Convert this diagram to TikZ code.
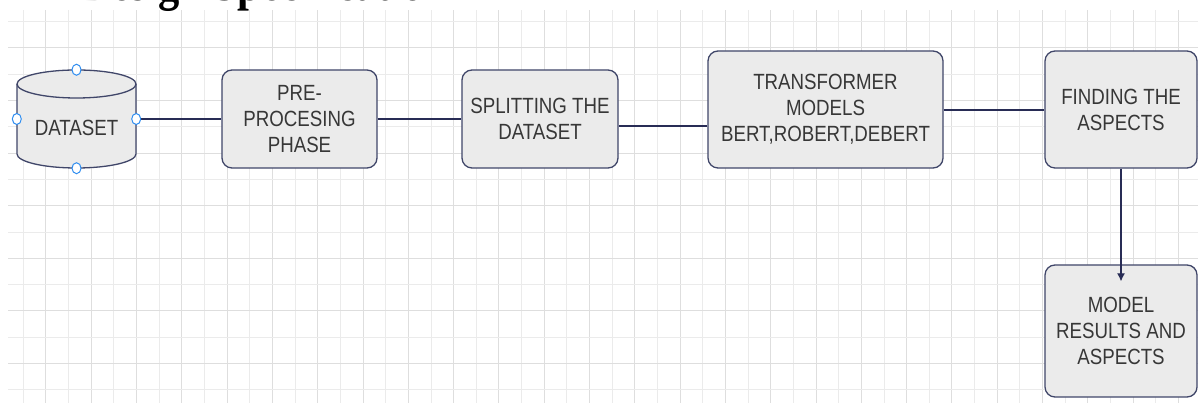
\documentclass[tikz,border=0pt]{standalone}
\usepackage{fontspec}
\setmainfont{Liberation Sans}[FakeStretch=0.85]
\newfontfamily\headfont{Liberation Serif}[FakeStretch=0.85]
\usetikzlibrary{arrows.meta}

\definecolor{boxfill}{RGB}{235,235,235}
\definecolor{boxline}{RGB}{64,70,105}
\definecolor{wirecol}{RGB}{40,44,85}
\definecolor{labelgray}{RGB}{55,55,55}
\definecolor{gridmajor}{RGB}{222,222,222}
\definecolor{gridminor}{RGB}{235,235,235}
\definecolor{handleblue}{RGB}{45,140,240}

\begin{document}
\begin{tikzpicture}[x=1pt,y=1pt,
    stage/.style = {draw=boxline, fill=boxfill, rounded corners=10pt, line width=1.3pt,
                    text=labelgray, align=center, inner sep=0pt,
                    font=\fontsize{22}{26}\selectfont},
    tag/.style = {text=labelgray, inner sep=0pt, font=\fontsize{22}{26}\selectfont},
    drum/.style = {draw=boxline, fill=boxfill, line width=1.3pt},
    wire/.style = {draw=wirecol, line width=1.5pt},
    handle/.style = {draw=handleblue, fill=white, line width=1pt}]
    \useasboundingbox (0,0) rectangle (1198,403);
    \clip (0,0) rectangle (1198,403);
    \fill[white] (0,0) rectangle (1198,403);

    % background grid
    \foreach \k in {1,...,52}{
        \ifodd\k \def\gc{gridminor}\else \def\gc{gridmajor}\fi
        \draw[\gc, line width=1pt] (0.65+22.65*\k, 0) -- (0.65+22.65*\k, 393);
    }
    \foreach \k in {0,...,14}{
        \ifodd\k \def\gc{gridmajor}\else \def\gc{gridminor}\fi
        \draw[\gc, line width=1pt] (8, 381.3-26.3*\k) -- (1198, 381.3-26.3*\k);
    }

    \node[anchor=base west, font=\headfont\bfseries\fontsize{50}{52}\selectfont] (heading) at (77,402.5) {Design Specification};

    % dataset drum
    \node[minimum width=119pt, minimum height=98pt, inner sep=0pt] (data) at (76.5,284) {};
    \draw[drum] (17,319) -- (17,249) arc (180:360:59.5 and 14) -- (136,319) arc (0:180:59.5 and 14) -- cycle;
    \draw[drum, fill=none] (17,319) arc (180:360:59.5 and 14);
    \node[tag] (datalabel) at (76.5,275) {DATASET};

    \node[stage, minimum width=155pt, minimum height=98pt] (pre) at (299.5,284) {PRE-\\PROCESING\\PHASE};
    \node[stage, minimum width=156pt, minimum height=98pt] (split) at (540,284) {SPLITTING THE\\DATASET};
    \node[stage, minimum width=235pt, minimum height=117pt] (trans) at (825.5,293.5) {TRANSFORMER\\MODELS\\BERT,ROBERT,DEBERT};
    \node[stage, minimum width=152pt, minimum height=117pt] (find) at (1121,293.5) {FINDING THE\\ASPECTS};
    \node[stage, minimum width=152pt, minimum height=132pt] (model) at (1121,72) {MODEL\\RESULTS AND\\ASPECTS};
    \coordinate (tip) at ([yshift=-17pt]model.north);

    \draw[wire] (data.east) -- (pre.west);
    \draw[wire] (pre) -- (split);
    \draw[wire] ([yshift=-7pt]split.east) -- ([yshift=-16.5pt]trans.west);
    \draw[wire] ([yshift=-0.5pt]trans.east) -- ([yshift=-0.5pt]find.west);
    \draw[wire, line width=1.2pt, -{Latex[length=8pt,width=8pt]}] (find.south) -- (tip);

    % selection handles round the drum
    \draw[handle] (data.north) ellipse (4.5 and 5.5);
    \draw[handle] (data.south) ellipse (4.5 and 5.5);
    \draw[handle] (data.west) ellipse (4.5 and 5.5);
    \draw[handle] (data.east) ellipse (4.5 and 5.5);
\end{tikzpicture}
\end{document}
